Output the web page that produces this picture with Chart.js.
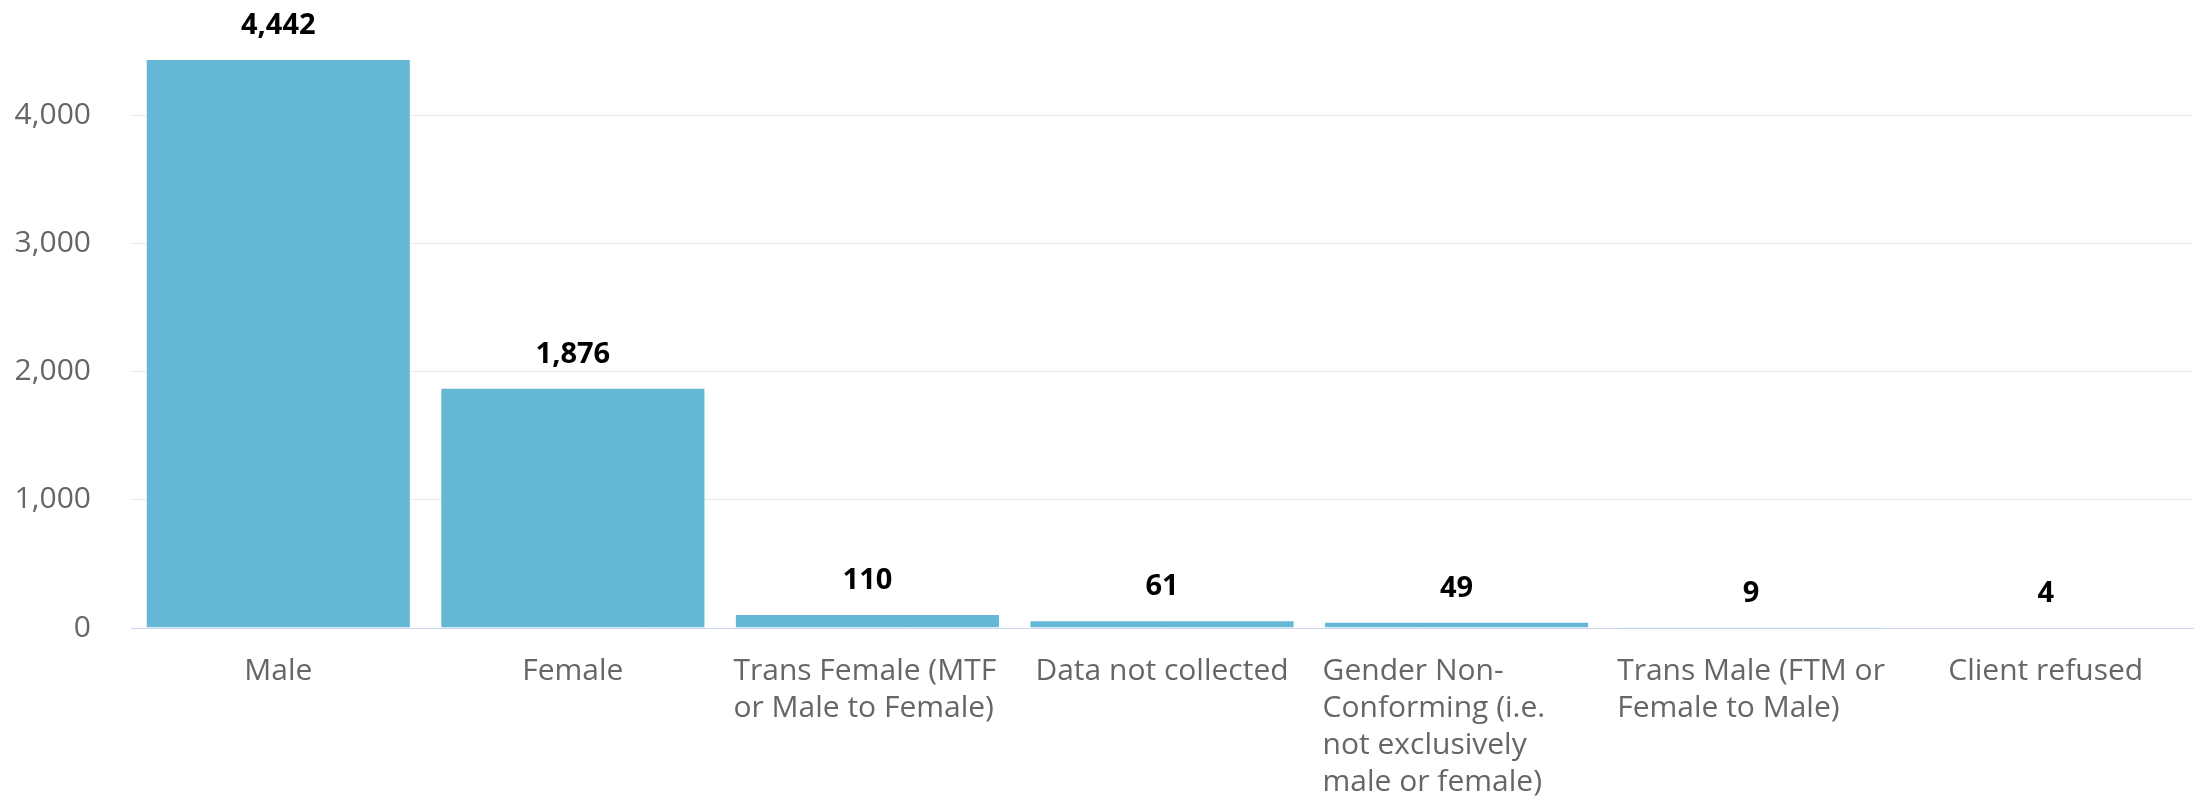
<!DOCTYPE html>
<html>
<head>
<meta charset="utf-8">
<script src="https://cdn.jsdelivr.net/npm/chart.js@4.4.1/dist/chart.umd.min.js"></script>
<style>
  html, body { margin: 0; padding: 0; background: #fff; }
</style>
</head>
<body>
<canvas id="genders" width="2203" height="805"></canvas>
<script>
const categories = [
  ['Male'],
  ['Female'],
  ['Trans Female (MTF', 'or Male to Female)'],
  ['Data not collected'],
  ['Gender Non-', 'Conforming (i.e.', 'not exclusively', 'male or female)'],
  ['Trans Male (FTM or', 'Female to Male)'],
  ['Client refused']
];
const counts = [4442, 1876, 110, 61, 49, 9, 4];
const yTicks = [0, 1000, 2000, 3000, 4000];

const FONT = '"Open Sans", "Noto Sans", sans-serif';

// value labels above each bar
const valueLabels = {
  id: 'valueLabels',
  afterDatasetsDraw(chart) {
    const ctx = chart.ctx;
    const meta = chart.getDatasetMeta(0);
    ctx.save();
    ctx.font = 'bold 29px ' + FONT;
    ctx.fillStyle = '#000';
    ctx.textAlign = 'center';
    ctx.textBaseline = 'alphabetic';
    meta.data.forEach((bar, i) => {
      ctx.fillText(counts[i].toLocaleString('en-US'), bar.x, bar.y - 25);
    });
    ctx.restore();
  }
};

// category labels: single lines centred, wrapped ones left aligned in a centred block
const categoryLabels = {
  id: 'categoryLabels',
  afterDraw(chart) {
    const ctx = chart.ctx;
    const xs = chart.scales.x;
    ctx.save();
    ctx.font = '30px ' + FONT;
    ctx.fillStyle = '#666666';
    ctx.textBaseline = 'alphabetic';
    categories.forEach((lines, i) => {
      const cx = xs.getPixelForValue(i);
      const y0 = xs.top + 52;
      lines.forEach((line, j) => {
        if (lines.length === 1) {
          ctx.textAlign = 'center';
          ctx.fillText(line, cx, y0);
        } else {
          ctx.textAlign = 'left';
          ctx.fillText(line, cx - 134, y0 + j * 37);
        }
      });
    });
    ctx.restore();
  }
};

new Chart(
  document.getElementById('genders'),
  {
    type: 'bar',
    data: {
      labels: categories.map(c => c.join(' ')),
      datasets: [
        {
          data: counts,
          backgroundColor: '#64b8d5',
          borderColor: '#ffffff',
          borderWidth: 1,
          categoryPercentage: 0.9,
          barPercentage: 1
        }
      ]
    },
    options: {
      responsive: false,
      animation: false,
      devicePixelRatio: 1,
      layout: {
        padding: { top: 59, right: 10, bottom: 0, left: 0 }
      },
      plugins: {
        legend: { display: false },
        tooltip: { enabled: false }
      },
      scales: {
        x: {
          grid: { display: false, drawTicks: false },
          border: { color: '#ccd6eb', width: 1 },
          ticks: { display: false },
          afterFit(scale) { scale.height = 177; }
        },
        y: {
          min: 0,
          max: Math.max(...counts),
          afterBuildTicks(scale) {
            scale.ticks = yTicks.map(v => ({ value: v }));
          },
          grid: { color: '#e6e6e6', lineWidth: 1, drawTicks: false },
          border: { display: false },
          ticks: {
            padding: 40,
            color: '#666666',
            font: { family: FONT, size: 30 },
            callback: v => v.toLocaleString('en-US')
          },
          afterFit(scale) { scale.width = 131; }
        }
      }
    },
    plugins: [valueLabels, categoryLabels]
  }
);
</script>
</body>
</html>
